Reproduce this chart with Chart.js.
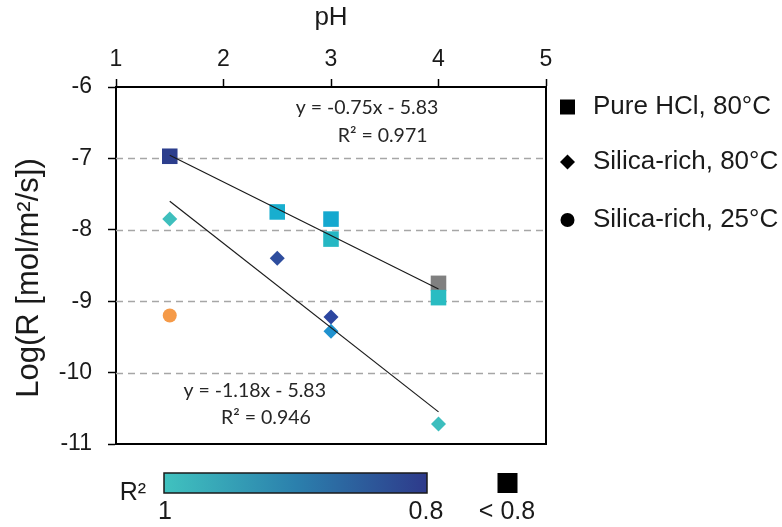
<!DOCTYPE html>
<html lang="en">
<head>
<meta charset="UTF-8">
<title>Log R vs pH</title>
<script src="https://cdn.jsdelivr.net/npm/chart.js"></script>
<style>
  body { margin: 0; background: #fff; }
</style>
</head>
<body>
<canvas id="chart" width="782" height="527"></canvas>
<script>
// values
const hclPH = [1.5, 2.5, 3, 3, 4, 4];
const hclLogR = [-6.97, -7.75, -7.85, -8.13, -8.75, -8.95];
const silica80PH = [1.5, 2.5, 3, 3, 4];
const silica80LogR = [-7.85, -8.4, -9.22, -9.42, -10.72];
const silica25PH = [1.5];
const silica25LogR = [-9.2];

// fitted lines, end points
const fitHclPH = [1.5, 4];
const fitHclLogR = [-6.955, -8.83];
const fitSilicaPH = [1.5, 4];
const fitSilicaLogR = [-7.6, -10.55];

const xTicks = [1, 2, 3, 4, 5];
const yTicks = [-6, -7, -8, -9, -10, -11];
const gridValues = [-7, -8, -9, -10];
const legendLabels = ['Pure HCl, 80°C', 'Silica-rich, 80°C', 'Silica-rich, 25°C'];
const fitHclText = ['y = -0.75x - 5.83', 'R² = 0.971'];
const fitSilicaText = ['y = -1.18x - 5.83', 'R² = 0.946'];
const colorbarLabels = ['1', '0.8', '< 0.8'];
const yTitle = 'Log(R [mol/m²/s])';

// point colours (R² colour scale)
const hclColors = ['#2c3e8d', '#18aecf', '#15a8cf', '#25b7c3', '#808080', '#29bcc2'];
const silica80Colors = ['#3ebfbd', '#2e4d9e', '#2c46a0', '#1f92cf', '#3cbebe'];
const silica25Colors = ['#f59a48'];

const pts = (xs, ys) => xs.map((x, i) => ({ x: x, y: ys[i] }));
const TEXT = '#1a1a1a';

// dashed grid, box, annotations, legend and colour bar
const extras = {
    id: 'extras',
    beforeDatasetsDraw(chart) {
        const ctx = chart.ctx;
        const a = chart.chartArea;
        const ys = chart.scales.y;
        ctx.save();
        ctx.strokeStyle = '#a6a6a6';
        ctx.lineWidth = 1.5;
        ctx.setLineDash([7, 5]);
        gridValues.forEach(v => {
            const py = Math.round(ys.getPixelForValue(v)) + 0.5;
            ctx.beginPath();
            ctx.moveTo(a.left, py);
            ctx.lineTo(a.right, py);
            ctx.stroke();
        });
        ctx.restore();
    },
    afterDraw(chart) {
        const ctx = chart.ctx;
        const a = chart.chartArea;
        const xs = chart.scales.x;
        const ys = chart.scales.y;
        ctx.save();

        // right and bottom of the frame
        ctx.strokeStyle = '#000';
        ctx.lineWidth = 2;
        ctx.beginPath();
        ctx.moveTo(a.right, a.top - 1);
        ctx.lineTo(a.right, a.bottom);
        ctx.lineTo(a.left - 1, a.bottom);
        ctx.stroke();

        // y axis title
        ctx.save();
        ctx.translate(29, 278);
        ctx.rotate(-Math.PI / 2);
        ctx.fillStyle = TEXT;
        ctx.font = '31px "Liberation Sans"';
        ctx.textAlign = 'center';
        ctx.textBaseline = 'middle';
        ctx.fillText(yTitle, 0, 0);
        ctx.restore();

        // fit equations
        ctx.fillStyle = '#262626';
        ctx.font = '19.5px Lato';
        ctx.textAlign = 'center';
        ctx.textBaseline = 'middle';
        ctx.fillText(fitHclText[0], xs.getPixelForValue(3.335), ys.getPixelForValue(-6.29));
        ctx.fillText(fitHclText[1], xs.getPixelForValue(3.48), ys.getPixelForValue(-6.68));
        ctx.fillText(fitSilicaText[0], xs.getPixelForValue(2.29), ys.getPixelForValue(-10.26));
        ctx.fillText(fitSilicaText[1], xs.getPixelForValue(2.395), ys.getPixelForValue(-10.63));

        // legend
        const lx = 567.5;
        const rows = [107, 162, 220];
        ctx.fillStyle = '#000';
        ctx.fillRect(lx - 7.5, rows[0] - 7.5, 15, 15);
        ctx.beginPath();
        ctx.moveTo(lx, rows[1] - 7.5);
        ctx.lineTo(lx + 7.5, rows[1]);
        ctx.lineTo(lx, rows[1] + 7.5);
        ctx.lineTo(lx - 7.5, rows[1]);
        ctx.closePath();
        ctx.fill();
        ctx.beginPath();
        ctx.arc(lx, rows[2], 7, 0, Math.PI * 2);
        ctx.fill();
        ctx.fillStyle = TEXT;
        ctx.font = '26px "Liberation Sans"';
        ctx.textAlign = 'left';
        legendLabels.forEach((t, i) => ctx.fillText(t, 593, rows[i]));

        // colour bar
        const bx0 = 164, bx1 = 427, by0 = 473, by1 = 493;
        const g = ctx.createLinearGradient(bx0, 0, bx1, 0);
        g.addColorStop(0, '#40c2bf');
        g.addColorStop(0.5, '#2b80ad');
        g.addColorStop(1, '#2e3a8b');
        ctx.fillStyle = g;
        ctx.fillRect(bx0, by0, bx1 - bx0, by1 - by0);
        ctx.strokeStyle = '#1a1a1a';
        ctx.lineWidth = 1.5;
        ctx.strokeRect(bx0, by0, bx1 - bx0, by1 - by0);
        ctx.fillStyle = '#000';
        ctx.fillRect(497.5, 473, 20, 20);

        ctx.fillStyle = TEXT;
        ctx.font = '25px "Liberation Sans"';
        ctx.textAlign = 'center';
        ctx.fillText('R²', 133, 493);
        ctx.fillText(colorbarLabels[0], 165, 512);
        ctx.fillText(colorbarLabels[1], 426, 512);
        ctx.fillText(colorbarLabels[2], 507, 512);
        ctx.restore();
    }
};

new Chart(document.getElementById('chart'), {
    type: 'scatter',
    data: {
        datasets: [
            {
                type: 'line', data: pts(fitHclPH, fitHclLogR), order: 0,
                borderColor: '#1a1a1a', borderWidth: 1.2, pointRadius: 0
            },
            {
                type: 'line', data: pts(fitSilicaPH, fitSilicaLogR), order: 0,
                borderColor: '#1a1a1a', borderWidth: 1.2, pointRadius: 0
            },
            {
                label: legendLabels[0], data: pts(hclPH, hclLogR), order: 1,
                pointStyle: 'rect', pointRadius: 11, borderWidth: 0,
                backgroundColor: hclColors
            },
            {
                label: legendLabels[1], data: pts(silica80PH, silica80LogR), order: 1,
                pointStyle: 'rectRot', pointRadius: 7.5, borderWidth: 0,
                backgroundColor: silica80Colors
            },
            {
                label: legendLabels[2], data: pts(silica25PH, silica25LogR), order: 1,
                pointStyle: 'circle', pointRadius: 7, borderWidth: 0,
                backgroundColor: silica25Colors
            }
        ]
    },
    options: {
        responsive: false,
        devicePixelRatio: 1,
        animation: false,
        layout: { padding: { left: 0, top: 0, right: 236, bottom: 83 } },
        plugins: { legend: { display: false }, tooltip: { enabled: false } },
        scales: {
            x: {
                type: 'linear', position: 'top', min: 1, max: 5,
                afterFit: s => { s.height = 87; },
                afterBuildTicks: s => { s.ticks = xTicks.map(v => ({ value: v })); },
                title: {
                    display: true, text: 'pH', color: TEXT,
                    font: { family: 'Liberation Sans', size: 26 },
                    padding: { top: 2, bottom: 0 }
                },
                ticks: { color: TEXT, font: { family: 'Liberation Sans', size: 23 }, padding: 6 },
                grid: { drawOnChartArea: false, tickLength: 8, tickColor: '#000', tickWidth: 1.5 },
                border: { color: '#000', width: 2 }
            },
            y: {
                min: -11, max: -6,
                afterFit: s => { s.width = 116; },
                afterBuildTicks: s => { s.ticks = yTicks.map(v => ({ value: v })); },
                title: { display: false },
                ticks: { color: TEXT, font: { family: 'Liberation Sans', size: 23 }, padding: 16 },
                grid: { drawOnChartArea: false, tickLength: 8, tickColor: '#000', tickWidth: 1.5 },
                border: { color: '#000', width: 2 }
            }
        }
    },
    plugins: [extras]
});
</script>
</body>
</html>
